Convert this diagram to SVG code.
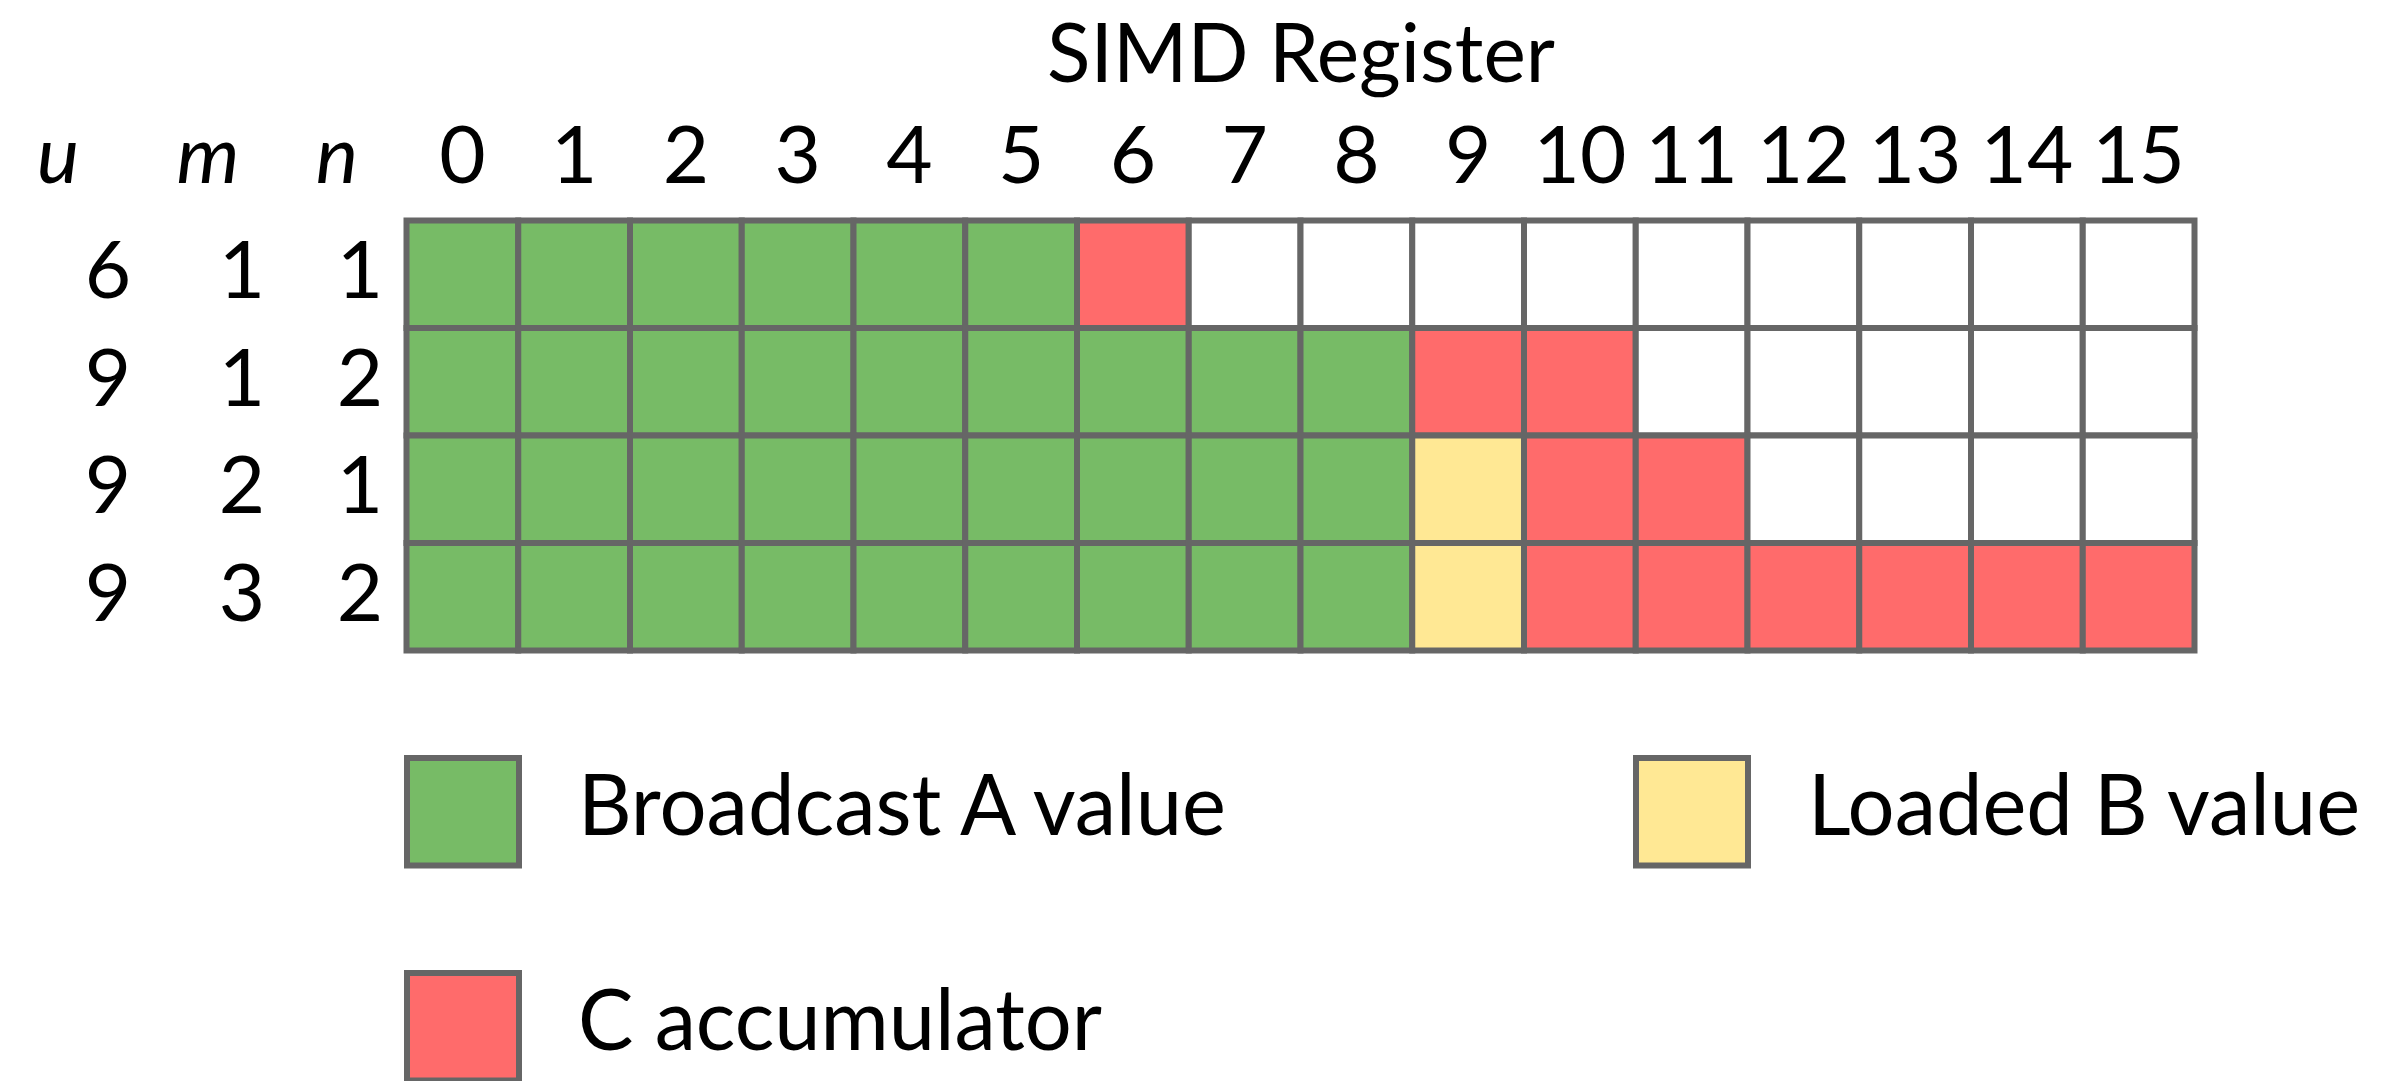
<svg xmlns="http://www.w3.org/2000/svg" width="2387" height="1081" viewBox="0 0 2387 1081">
<style>
  .t { font-family: Lato, "Open Sans", "Liberation Sans", sans-serif; fill: #000; }
  .h { font-size: 80px; text-anchor: middle; }
  .it { font-style: italic; }
  .lg { font-size: 86px; }
  .c { stroke: #666666; stroke-width: 6; }
  .g { fill: #77BB66; }
  .r { fill: #FF6B6B; }
  .y { fill: #FFE894; }
  .w { fill: #FFFFFF; }
</style>
<rect width="2387" height="1081" fill="#FFFFFF"/>

<g id="title">
  <text class="t" x="1047" y="82" font-size="81" textLength="508" lengthAdjust="spacingAndGlyphs">SIMD Register</text>
</g>

<g id="column-headers">
  <text class="t h it" x="58" y="183">u</text>
  <text class="t h it" x="208" y="183">m</text>
  <text class="t h it" x="337" y="183">n</text>
  <text class="t h" x="462.4" y="183">0</text>
  <text class="t h" x="574.1" y="183">1</text>
  <text class="t h" x="685.9" y="183">2</text>
  <text class="t h" x="797.6" y="183">3</text>
  <text class="t h" x="909.4" y="183">4</text>
  <text class="t h" x="1021.1" y="183">5</text>
  <text class="t h" x="1132.9" y="183">6</text>
  <text class="t h" x="1244.6" y="183">7</text>
  <text class="t h" x="1356.4" y="183">8</text>
  <text class="t h" x="1468.1" y="183">9</text>
  <text class="t h" x="1579.9" y="183">10</text>
  <text class="t h" x="1691.6" y="183">11</text>
  <text class="t h" x="1803.4" y="183">12</text>
  <text class="t h" x="1915.1" y="183">13</text>
  <text class="t h" x="2026.9" y="183">14</text>
  <text class="t h" x="2138.6" y="183">15</text>
</g>

<g id="row-labels">
  <text class="t h" x="108" y="298">6</text><text class="t h" x="242" y="298">1</text><text class="t h" x="360" y="298">1</text>
  <text class="t h" x="108" y="405.5">9</text><text class="t h" x="242" y="405.5">1</text><text class="t h" x="360" y="405.5">2</text>
  <text class="t h" x="108" y="513">9</text><text class="t h" x="242" y="513">2</text><text class="t h" x="360" y="513">1</text>
  <text class="t h" x="108" y="620.5">9</text><text class="t h" x="242" y="620.5">3</text><text class="t h" x="360" y="620.5">2</text>
</g>

<g id="row-6-1-1">
  <rect class="c g" x="406.5" y="220.5" width="111.75" height="107.5"/>
  <rect class="c g" x="518.25" y="220.5" width="111.75" height="107.5"/>
  <rect class="c g" x="630" y="220.5" width="111.75" height="107.5"/>
  <rect class="c g" x="741.75" y="220.5" width="111.75" height="107.5"/>
  <rect class="c g" x="853.5" y="220.5" width="111.75" height="107.5"/>
  <rect class="c g" x="965.25" y="220.5" width="111.75" height="107.5"/>
  <rect class="c r" x="1077" y="220.5" width="111.75" height="107.5"/>
  <rect class="c w" x="1188.75" y="220.5" width="111.75" height="107.5"/>
  <rect class="c w" x="1300.5" y="220.5" width="111.75" height="107.5"/>
  <rect class="c w" x="1412.25" y="220.5" width="111.75" height="107.5"/>
  <rect class="c w" x="1524" y="220.5" width="111.75" height="107.5"/>
  <rect class="c w" x="1635.75" y="220.5" width="111.75" height="107.5"/>
  <rect class="c w" x="1747.5" y="220.5" width="111.75" height="107.5"/>
  <rect class="c w" x="1859.25" y="220.5" width="111.75" height="107.5"/>
  <rect class="c w" x="1971" y="220.5" width="111.75" height="107.5"/>
  <rect class="c w" x="2082.75" y="220.5" width="111.75" height="107.5"/>
</g>

<g id="row-9-1-2">
  <rect class="c g" x="406.5" y="328" width="111.75" height="107.5"/>
  <rect class="c g" x="518.25" y="328" width="111.75" height="107.5"/>
  <rect class="c g" x="630" y="328" width="111.75" height="107.5"/>
  <rect class="c g" x="741.75" y="328" width="111.75" height="107.5"/>
  <rect class="c g" x="853.5" y="328" width="111.75" height="107.5"/>
  <rect class="c g" x="965.25" y="328" width="111.75" height="107.5"/>
  <rect class="c g" x="1077" y="328" width="111.75" height="107.5"/>
  <rect class="c g" x="1188.75" y="328" width="111.75" height="107.5"/>
  <rect class="c g" x="1300.5" y="328" width="111.75" height="107.5"/>
  <rect class="c r" x="1412.25" y="328" width="111.75" height="107.5"/>
  <rect class="c r" x="1524" y="328" width="111.75" height="107.5"/>
  <rect class="c w" x="1635.75" y="328" width="111.75" height="107.5"/>
  <rect class="c w" x="1747.5" y="328" width="111.75" height="107.5"/>
  <rect class="c w" x="1859.25" y="328" width="111.75" height="107.5"/>
  <rect class="c w" x="1971" y="328" width="111.75" height="107.5"/>
  <rect class="c w" x="2082.75" y="328" width="111.75" height="107.5"/>
</g>

<g id="row-9-2-1">
  <rect class="c g" x="406.5" y="435.5" width="111.75" height="107.5"/>
  <rect class="c g" x="518.25" y="435.5" width="111.75" height="107.5"/>
  <rect class="c g" x="630" y="435.5" width="111.75" height="107.5"/>
  <rect class="c g" x="741.75" y="435.5" width="111.75" height="107.5"/>
  <rect class="c g" x="853.5" y="435.5" width="111.75" height="107.5"/>
  <rect class="c g" x="965.25" y="435.5" width="111.75" height="107.5"/>
  <rect class="c g" x="1077" y="435.5" width="111.75" height="107.5"/>
  <rect class="c g" x="1188.75" y="435.5" width="111.75" height="107.5"/>
  <rect class="c g" x="1300.5" y="435.5" width="111.75" height="107.5"/>
  <rect class="c y" x="1412.25" y="435.5" width="111.75" height="107.5"/>
  <rect class="c r" x="1524" y="435.5" width="111.75" height="107.5"/>
  <rect class="c r" x="1635.75" y="435.5" width="111.75" height="107.5"/>
  <rect class="c w" x="1747.5" y="435.5" width="111.75" height="107.5"/>
  <rect class="c w" x="1859.25" y="435.5" width="111.75" height="107.5"/>
  <rect class="c w" x="1971" y="435.5" width="111.75" height="107.5"/>
  <rect class="c w" x="2082.75" y="435.5" width="111.75" height="107.5"/>
</g>

<g id="row-9-3-2">
  <rect class="c g" x="406.5" y="543" width="111.75" height="107.5"/>
  <rect class="c g" x="518.25" y="543" width="111.75" height="107.5"/>
  <rect class="c g" x="630" y="543" width="111.75" height="107.5"/>
  <rect class="c g" x="741.75" y="543" width="111.75" height="107.5"/>
  <rect class="c g" x="853.5" y="543" width="111.75" height="107.5"/>
  <rect class="c g" x="965.25" y="543" width="111.75" height="107.5"/>
  <rect class="c g" x="1077" y="543" width="111.75" height="107.5"/>
  <rect class="c g" x="1188.75" y="543" width="111.75" height="107.5"/>
  <rect class="c g" x="1300.5" y="543" width="111.75" height="107.5"/>
  <rect class="c y" x="1412.25" y="543" width="111.75" height="107.5"/>
  <rect class="c r" x="1524" y="543" width="111.75" height="107.5"/>
  <rect class="c r" x="1635.75" y="543" width="111.75" height="107.5"/>
  <rect class="c r" x="1747.5" y="543" width="111.75" height="107.5"/>
  <rect class="c r" x="1859.25" y="543" width="111.75" height="107.5"/>
  <rect class="c r" x="1971" y="543" width="111.75" height="107.5"/>
  <rect class="c r" x="2082.75" y="543" width="111.75" height="107.5"/>
</g>

<g id="legend-broadcast-a">
  <rect class="c g" x="407" y="758" width="112" height="107.5"/>
  <text class="t lg" x="578" y="835" textLength="648" lengthAdjust="spacingAndGlyphs">Broadcast A value</text>
</g>

<g id="legend-loaded-b">
  <rect class="c y" x="1636" y="758" width="112" height="107.5"/>
  <text class="t lg" x="1808" y="835" textLength="552" lengthAdjust="spacingAndGlyphs">Loaded B value</text>
</g>

<g id="legend-c-accumulator">
  <rect class="c r" x="407" y="973" width="112" height="107.5"/>
  <text class="t lg" x="578" y="1050" textLength="524" lengthAdjust="spacingAndGlyphs">C accumulator</text>
</g>

<g id="connectors"></g>
</svg>
